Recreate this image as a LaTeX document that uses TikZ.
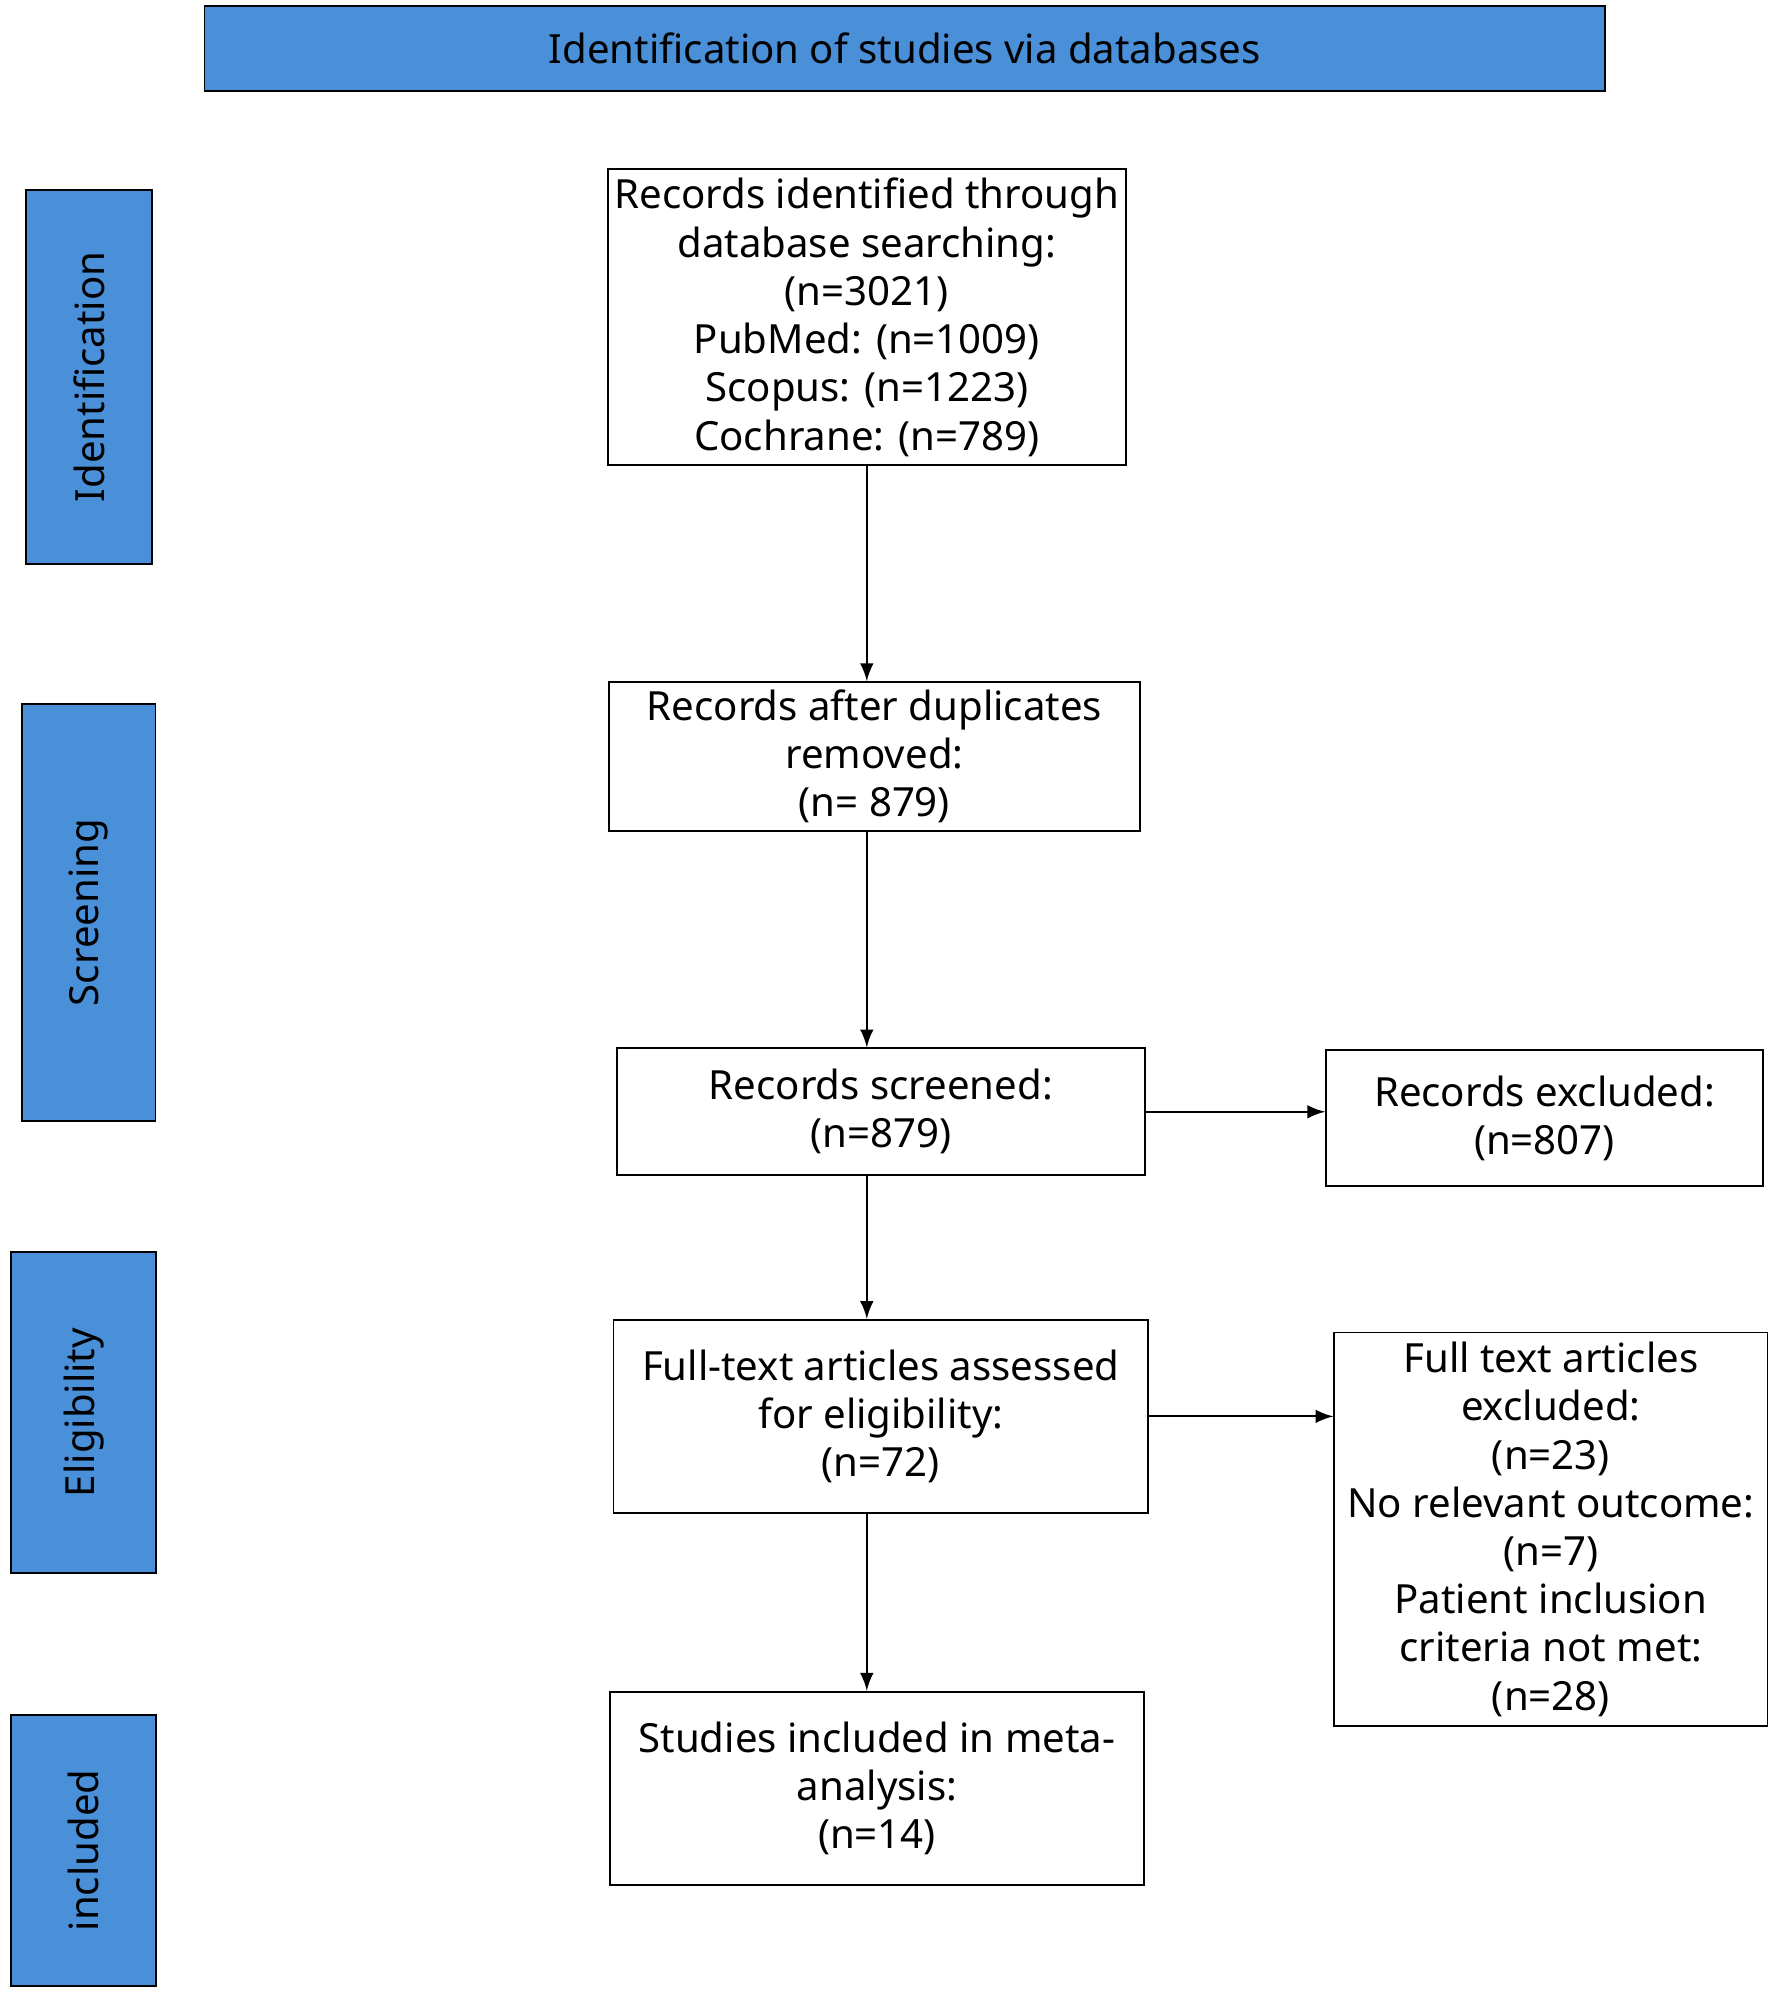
\documentclass[tikz,border=0pt]{standalone}
\usepackage{fontspec}
\setmainfont{Noto Sans}
\definecolor{barblue}{HTML}{4A90D9}

\begin{document}
\begin{tikzpicture}[x=0.01cm,y=-0.01cm,>=latex,
    box/.style={draw,rectangle,align=center,inner sep=0pt,
        font=\fontsize{9}{10.8}\selectfont},
    bar/.style={draw,rectangle,fill=barblue,inner sep=0pt,
        font=\fontsize{9}{10.8}\selectfont},
    side/.style={rotate=90,font=\fontsize{9}{10.8}\selectfont}]
    \useasboundingbox (0,0) rectangle (1395,1568);

    % the title bar
    \node[bar,minimum width=11.03cm,minimum height=0.67cm,font=\bfseries\fontsize{9}{10.8}\selectfont]
        (title) at (713,38) {Identification of studies via databases};

    % the stage bars at the left
    \node[bar,minimum width=0.99cm,minimum height=2.95cm] (ident) at (70,297) {};
    \node[side] at (ident) {Identification};
    \node[bar,minimum width=1.05cm,minimum height=3.28cm] (screen) at (70,719) {};
    \node[side] at (screen) {Screening};
    \node[bar,minimum width=1.14cm,minimum height=2.53cm] (elig) at (66,1113) {};
    \node[side] at (elig) {Eligibility};
    \node[bar,minimum width=1.14cm,minimum height=2.13cm] (incl) at (66,1458) {};
    \node[side] at (incl) {included};

    % the boxes of the flow
    \node[box,minimum width=4.08cm,minimum height=2.33cm] (found) at (683,250)
        {Records identified through\\database searching:\\(n=3021)\\PubMed: (n=1009)\\Scopus: (n=1223)\\Cochrane: (n=789)};
    \node[box,minimum width=4.18cm,minimum height=1.17cm] (dedup) at (689,596)
        {Records after duplicates\\removed:\\(n= 879)};
    \node[box,minimum width=4.16cm,minimum height=1.0cm] (screened) at (694,876)
        {Records screened:\\(n=879)};
    \node[box,minimum width=3.44cm,minimum height=1.07cm] (excl) at (1217,881)
        {Records excluded:\\(n=807)};
    \node[box,minimum width=4.21cm,minimum height=1.52cm] (full) at (694,1116)
        {Full-text articles assessed\\for eligibility:\\(n=72)};
    \node[box,minimum width=3.41cm,minimum height=3.10cm] (fullexcl) at (1222,1205)
        {Full text articles\\excluded:\\(n=23)\\No relevant outcome:\\(n=7)\\Patient inclusion\\criteria not met:\\(n=28)};
    \node[box,minimum width=4.20cm,minimum height=1.52cm] (meta) at (691,1409)
        {Studies included in meta-\\analysis:\\(n=14)};

    % connectors
    \draw[->] (found.south) -- (found.south |- dedup.north);
    \draw[->] (found.south |- dedup.south) -- (found.south |- screened.north);
    \draw[->] (found.south |- screened.south) -- (found.south |- full.north);
    \draw[->] (found.south |- full.south) -- (found.south |- meta.north);
    \draw[->] (screened.east) -- (excl.west |- screened.east);
    \draw[->] (full.east) -- (fullexcl.west |- full.east);
\end{tikzpicture}
\end{document}
